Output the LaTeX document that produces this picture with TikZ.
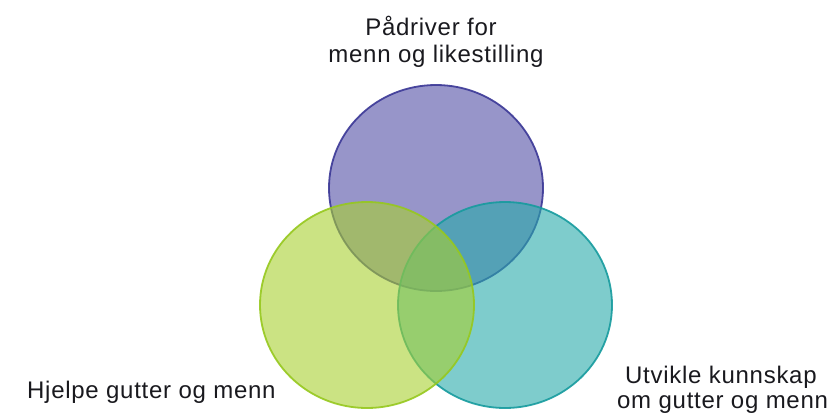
\documentclass[tikz,border=0pt]{standalone}
\usepackage{fontspec}
\setmainfont{Liberation Sans}[LetterSpace=3]
\usetikzlibrary{shapes.geometric}
\definecolor{purplefill}{RGB}{82,78,165}
\definecolor{purpleline}{RGB}{58,55,150}
\definecolor{tealfill}{RGB}{40,170,170}
\definecolor{tealline}{RGB}{22,155,158}
\definecolor{greenfill}{RGB}{168,208,48}
\definecolor{greenline}{RGB}{150,200,30}
\definecolor{txt}{RGB}{25,25,30}
\tikzset{
  setcircle/.style={ellipse, inner sep=0pt, minimum width=214pt, minimum height=206pt,
    line width=1.8pt, fill opacity=0.6, draw opacity=0.9},
  lbl/.style={anchor=base west, inner sep=0pt, text=txt, font=\fontsize{24}{27}\selectfont},
  lblc/.style={anchor=base, inner sep=0pt, text=txt, font=\fontsize{24}{27}\selectfont}
}
\begin{document}
\begin{tikzpicture}[x=1pt,y=-1pt]
\useasboundingbox (0,0) rectangle (831,416);
\node[setcircle, fill=purplefill, draw=purpleline] (purple) at (436,188) {};
\node[setcircle, fill=tealfill, draw=tealline] (teal) at (505,305) {};
\node[setcircle, fill=greenfill, draw=greenline] (green) at (367,305) {};
\node[lblc] (t1) at (431,35) {Pådriver for};
\node[lblc] (t2) at (436,62) {menn og likestilling};
\node[lbl] (h1) at (27,398) {Hjelpe gutter og menn};
\node[lbl] (u1) at (625,383) {Utvikle kunnskap};
\node[lbl] (u2) at (617,408) {om gutter og menn};
\end{tikzpicture}
\end{document}
